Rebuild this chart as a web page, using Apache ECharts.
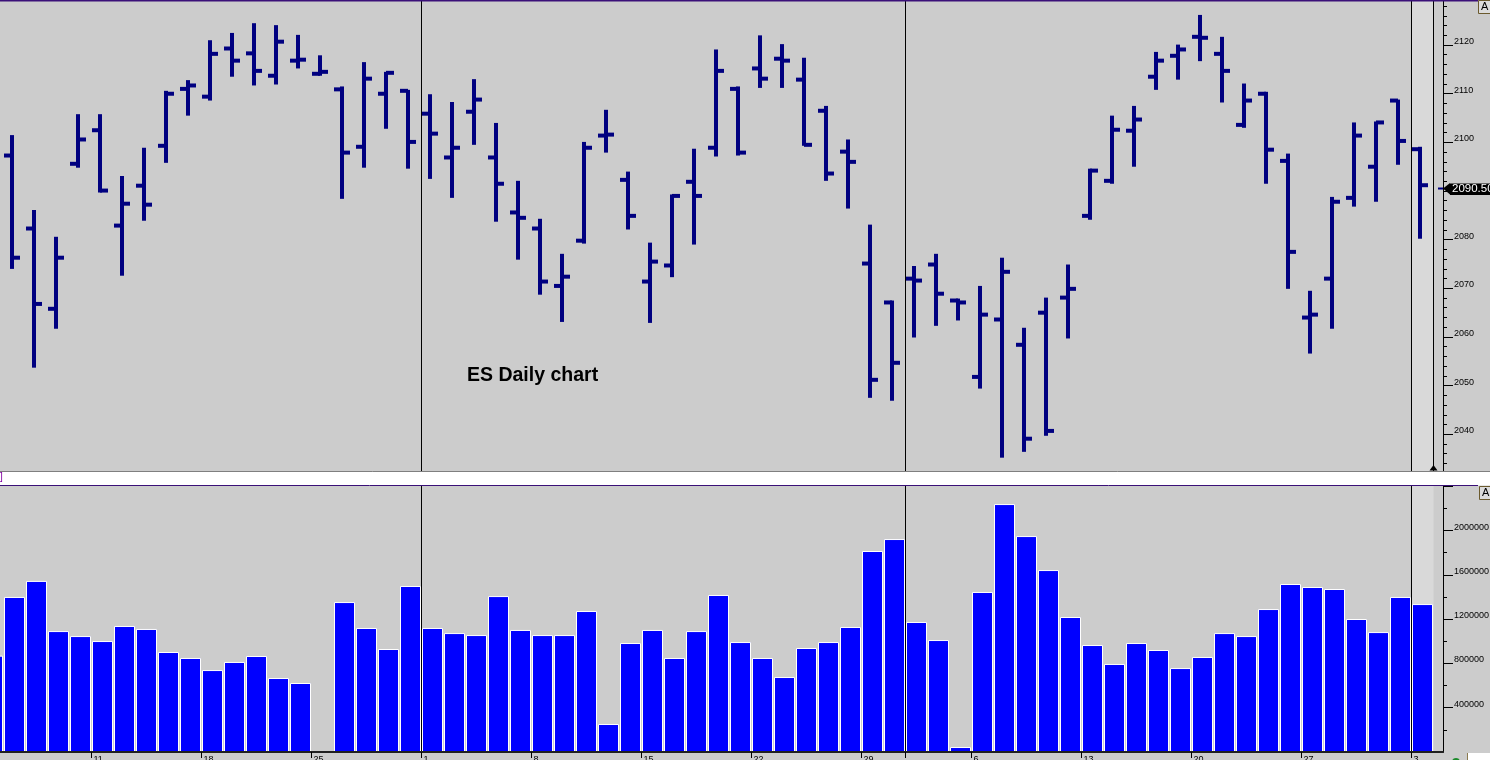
<!DOCTYPE html>
<html>
<head>
<meta charset="utf-8">
<script src="https://cdn.jsdelivr.net/npm/echarts@6/dist/echarts.min.js"></script>
<style>
html,body{margin:0;padding:0;background:#cccccc;overflow:hidden}
#c{width:1490px;height:760px}
</style>
</head>
<body>
<div id="c"></div>
<script>
// ---- DATA (ES daily, May 4 – Aug 3 2015) ----
const dates = [
 '2015-05-04','2015-05-05','2015-05-06','2015-05-07','2015-05-08',
 '2015-05-11','2015-05-12','2015-05-13','2015-05-14','2015-05-15',
 '2015-05-18','2015-05-19','2015-05-20','2015-05-21','2015-05-22',
 '2015-05-25','2015-05-26','2015-05-27','2015-05-28','2015-05-29',
 '2015-06-01','2015-06-02','2015-06-03','2015-06-04','2015-06-05',
 '2015-06-08','2015-06-09','2015-06-10','2015-06-11','2015-06-12',
 '2015-06-15','2015-06-16','2015-06-17','2015-06-18','2015-06-19',
 '2015-06-22','2015-06-23','2015-06-24','2015-06-25','2015-06-26',
 '2015-06-29','2015-06-30','2015-07-01','2015-07-02','2015-07-03',
 '2015-07-06','2015-07-07','2015-07-08','2015-07-09','2015-07-10',
 '2015-07-13','2015-07-14','2015-07-15','2015-07-16','2015-07-17',
 '2015-07-20','2015-07-21','2015-07-22','2015-07-23','2015-07-24',
 '2015-07-27','2015-07-28','2015-07-29','2015-07-30','2015-07-31',
 '2015-08-03'
];
const opens = [null,
 2096.6,2081.6,2065.1,2094.9,2101.8,2082.2,2090.4,2098.6,2110.3,2108.7,
 2118.6,2117.6,2113.0,2116.1,2113.4,2110.2,2098.4,2109.3,2109.9,2105.2,
 2096.2,2105.6,2096.2,2084.9,2081.6,2069.8,2079.1,2100.7,2091.6,2070.7,
 2074.0,2091.2,2098.2,2110.3,2114.5,2116.5,2112.2,2105.8,2097.4,2074.4,
 2066.4,2071.3,2074.2,2066.8,2051.1,2062.9,2057.7,2064.3,2067.4,2084.2,
 2091.4,2101.7,2112.8,2117.1,2121.0,2117.5,2102.9,2109.3,2095.5,2063.3,
 2071.3,2087.9,2094.3,2107.9,2097.9];
const highs = [null,
 2100.8,2085.4,2079.9,2105.1,2105.1,2092.4,2098.2,2109.9,2112.1,2120.3,
 2121.8,2123.8,2123.4,2121.4,2117.2,2110.8,2115.8,2113.8,2110.1,2109.2,
 2107.6,2112.3,2103.3,2091.4,2083.6,2076.4,2099.4,2106.0,2093.3,2078.7,
 2088.6,2098.0,2118.4,2110.8,2121.3,2119.5,2116.7,2106.8,2099.9,2082.4,
 2066.8,2073.9,2076.4,2067.2,2069.8,2075.6,2061.2,2067.4,2074.2,2093.9,
 2104.8,2106.8,2117.9,2119.4,2125.5,2121.0,2111.4,2109.7,2097.0,2068.8,
 2088.1,2103.4,2103.6,2108.1,2098.4];
const lows = [null,
 2073.3,2053.0,2061.0,2094.1,2089.0,2071.9,2083.2,2095.1,2104.8,2107.9,
 2112.8,2111.0,2111.2,2114.5,2113.0,2087.7,2094.1,2102.1,2093.9,2091.8,
 2087.9,2098.8,2083.0,2075.2,2068.0,2062.4,2078.5,2097.2,2081.4,2062.2,
 2071.6,2078.3,2096.4,2096.6,2110.5,2110.5,2098.6,2091.4,2085.7,2046.8,
 2046.2,2059.2,2061.6,2062.7,2048.7,2034.5,2035.7,2039.0,2059.0,2083.4,
 2090.8,2094.3,2110.1,2112.2,2116.0,2107.5,2102.3,2090.8,2069.2,2055.9,
 2061.0,2086.1,2087.1,2094.7,2079.5];
const closes = [null,
 2075.6,2066.1,2075.6,2099.9,2089.4,2086.7,2086.5,2109.3,2111.0,2117.5,
 2116.1,2114.0,2120.0,2116.3,2113.8,2097.2,2112.4,2113.6,2099.4,2101.1,
 2098.2,2108.1,2090.8,2083.8,2070.7,2071.7,2098.2,2100.9,2084.2,2074.8,
 2088.3,2088.3,2114.0,2097.2,2112.4,2116.1,2098.8,2092.9,2095.3,2050.5,
 2054.0,2070.9,2068.2,2066.4,2063.9,2072.7,2038.4,2040.0,2069.2,2093.5,
 2101.9,2104.0,2116.1,2118.4,2120.8,2114.0,2107.9,2097.8,2076.8,2063.9,
 2087.1,2100.7,2103.4,2099.6,2090.5];
const volumes = [870000,
 1400000,1545000,1092000,1047000,1002000,1138000,1111000,903000,849000,740000,
 813000,867000,668000,623000,null,1354000,1120000,930000,1499000,1120000,
 1074000,1056000,1408000,1102000,1056000,1056000,1273000,253000,984000,1102000,
 849000,1092000,1418000,993000,849000,677000,939000,993000,1129000,1815000,
 1923000,1174000,1011000,45000,1445000,2239000,1950000,1643000,1219000,966000,
 795000,984000,921000,758000,858000,1074000,1047000,1291000,1517000,1490000,
 1472000,1201000,1083000,1400000,1336000];
const priceTickLabels = [2040,2050,2060,2070,2080,2090,2100,2110,2120];
const volumeTickLabels = [400000,800000,1200000,1600000,2000000,2400000];
const chartTitle = 'ES Daily chart';

// ---- derived ----
const ohlcRows = [];
for (let i = 0; i < dates.length; i++) {
  if (opens[i] == null) continue;
  ohlcRows.push([i, opens[i], highs[i], lows[i], closes[i]]);
}
const volRows = [];
volumes.forEach((v, i) => { if (v != null) volRows.push([i, v]); });

const weekTicks = [], weekLabelMap = {}, monthBounds = [];
for (let i = 1; i < dates.length; i++) {
  const d = new Date(dates[i] + 'T00:00:00Z'), p = new Date(dates[i-1] + 'T00:00:00Z');
  if (d.getUTCDay() < p.getUTCDay()) { weekTicks.push(i - 0.5); weekLabelMap[String(i - 0.5)] = String(d.getUTCDate()); }
  if (d.getUTCMonth() !== p.getUTCMonth()) monthBounds.push(i - 0.5);
}
const tickPositions = Array.from(new Set(weekTicks.concat(monthBounds))).sort((a,b)=>a-b);
const lastIdx = dates.length - 1;
const lastClose = closes[lastIdx];

const priceMinor = []; for (let v = 2034; v <= 2128; v += 2) priceMinor.push(v);
const volMinor = []; for (let v = 200000; v <= 2400000; v += 200000) volMinor.push(v);

const X_MIN = 0.3409, X_MAX = X_MIN + 1443 / 22;
const P_MIN = 2032.44, P_MAX = 2129.04;
const V_MAX = 2402000;

const FONT = 'Liberation Sans';
const chart = echarts.init(document.getElementById('c'), null, {renderer: 'canvas'});

const yLabel = {color:'#000', fontFamily: FONT, fontSize: 9, margin: 11, align:'left', verticalAlign:'bottom', lineHeight: 7, formatter: v => String(v)};

const option = {
  backgroundColor: '#cccccc',
  animation: false,
  grid: [
    {left: 0, top: 1, width: 1443, height: 470, outerBoundsMode: 'none', containLabel: false},
    {left: 0, top: 486, width: 1443, height: 266, outerBoundsMode: 'none', containLabel: false}
  ],
  xAxis: [
    {type:'value', gridIndex:0, min:X_MIN, max:X_MAX, show:false},
    {type:'value', gridIndex:1, min:X_MIN, max:X_MAX, z: 10,
     axisLine:{onZero:false, lineStyle:{color:'#202020', width:2}},
     axisTick:{show:true, customValues: tickPositions, length:6, lineStyle:{color:'#000'}},
     axisLabel:{customValues: weekTicks, formatter: v => weekLabelMap[String(v)] || '',
                color:'#000', fontFamily: FONT, fontSize: 9, margin: 3, align:'left', padding:[0,0,0,2]},
     splitLine:{show:false}}
  ],
  yAxis: [
    {type:'value', gridIndex:0, min:P_MIN, max:P_MAX, position:'right',
     axisLine:{show:true, onZero:false, lineStyle:{color:'#000'}},
     axisTick:{show:true, customValues: priceTickLabels, length:10, lineStyle:{color:'#000'}},
     axisLabel:Object.assign({customValues: priceTickLabels}, yLabel),
     splitLine:{show:false}},
    {type:'value', gridIndex:0, min:P_MIN, max:P_MAX, position:'right',
     axisLine:{show:true, onZero:false, lineStyle:{color:'#000'}},
     axisTick:{show:true, customValues: priceMinor, length:4, lineStyle:{color:'#000'}},
     axisLabel:{show:false}, splitLine:{show:false}},
    {type:'value', gridIndex:1, min:0, max:V_MAX, position:'right',
     axisLine:{show:true, onZero:false, lineStyle:{color:'#000'}},
     axisTick:{show:true, customValues: volumeTickLabels, length:10, lineStyle:{color:'#000'}},
     axisLabel:Object.assign({customValues: volumeTickLabels}, yLabel),
     splitLine:{show:false}},
    {type:'value', gridIndex:1, min:0, max:V_MAX, position:'right',
     axisLine:{show:true, onZero:false, lineStyle:{color:'#000'}},
     axisTick:{show:true, customValues: volMinor, length:4, lineStyle:{color:'#000'}},
     axisLabel:{show:false}, splitLine:{show:false}}
  ],
  series: [
    {
      type:'custom', name:'ES', xAxisIndex:0, yAxisIndex:0, data: ohlcRows,
      encode:{x:0, y:[1,2,3,4]}, z: 3,
      renderItem: function(params, api){
        const i = api.value(0);
        const ph = api.coord([i, api.value(2)]), pl = api.coord([i, api.value(3)]);
        const po = api.coord([i, api.value(1)]), pc = api.coord([i, api.value(4)]);
        const cx = Math.round(ph[0] - 2.5), dy = -3.3;
        const st = {stroke:'#000080', lineWidth:4};
        return {type:'group', children:[
          {type:'line', shape:{x1:cx, y1:ph[1]+dy, x2:cx, y2:pl[1]+dy}, style:st},
          {type:'line', shape:{x1:cx-8, y1:po[1]+dy, x2:cx, y2:po[1]+dy}, style:st},
          {type:'line', shape:{x1:cx, y1:pc[1]+dy, x2:cx+8, y2:pc[1]+dy}, style:st}
        ]};
      },
      markArea:{silent:true, itemStyle:{color:'#d9d9d9'}, label:{show:false},
        data:[[{xAxis: lastIdx - 0.5},{xAxis: lastIdx + 0.5}]]},
      markLine:{silent:true, symbol:['none','none'], label:{show:false},
        lineStyle:{color:'#000', width:1, type:'solid'}, emphasis:{disabled:true},
        data: monthBounds.map(b => ({xAxis:b})).concat([{xAxis: lastIdx + 0.5}])}
    },
    {
      type:'bar', name:'Volume', xAxisIndex:1, yAxisIndex:2, data: volRows,
      barWidth: 21, z: 3,
      itemStyle:{color:'#0000ff', borderColor:'#ffffff', borderWidth:1},
      markArea:{silent:true, itemStyle:{color:'#d9d9d9'}, label:{show:false},
        data:[[{xAxis: lastIdx - 0.5},{xAxis: lastIdx + 0.5}]]},
      markLine:{silent:true, symbol:['none','none'], label:{show:false},
        lineStyle:{color:'#000', width:1, type:'solid'}, emphasis:{disabled:true},
        data: monthBounds.map(b => ({xAxis:b}))}
    }
  ]
};
chart.setOption(option);

const pY = chart.convertToPixel({yAxisIndex:0}, lastClose);
const edgeX = chart.convertToPixel({xAxisIndex:0}, lastIdx + 0.5);
const purple = '#3a1078';
chart.setOption({graphic: [
  {type:'rect', z:100, shape:{x:0, y:472, width:1490, height:13.5}, style:{fill:'#ffffff'}},
  {type:'line', z:101, shape:{x1:0, y1:471.5, x2:1490, y2:471.5}, style:{stroke:'#7f7f7f', lineWidth:1}},
  {type:'line', z:101, shape:{x1:0, y1:485.5, x2:1478, y2:485.5}, style:{stroke:purple, lineWidth:1}},
  {type:'line', z:101, shape:{x1:0, y1:0.5, x2:1478, y2:0.5}, style:{stroke:purple, lineWidth:2}},
  {type:'text', z:101, x:0, y:472, style:{text:']', fill:'#8000a0', fontSize:10, fontFamily:FONT}},
  {type:'rect', z:101, shape:{x:1478.5, y:0.5, width:12, height:13}, style:{fill:'#dcdcdc', stroke:'#6b5a2e', lineWidth:1}},
  {type:'text', z:102, x:1481, y:1, style:{text:'A', fill:'#000', fontSize:11, fontFamily:FONT}},
  {type:'rect', z:101, shape:{x:1479.5, y:486.5, width:12, height:13}, style:{fill:'#dcdcdc', stroke:'#6b5a2e', lineWidth:1}},
  {type:'text', z:102, x:1482, y:487.5, style:{text:'A', fill:'#000', fontSize:11, fontFamily:FONT}},
  {type:'polygon', z:102, shape:{points:[[edgeX-4, 470.5],[edgeX+4, 470.5],[edgeX, 465]]}, style:{fill:'#000'}},
  {type:'line', z:102, shape:{x1:1438, y1:pY, x2:1443, y2:pY}, style:{stroke:'#000080', lineWidth:2}},
  {type:'polygon', z:102, shape:{points:[[1443, pY],[1450, pY-5.5],[1450, pY+6]]}, style:{fill:'#000'}},
  {type:'rect', z:102, shape:{x:1450, y:Math.round(pY)-5.5, width:42, height:11.5}, style:{fill:'#000'}},
  {type:'text', z:103, x:1452, y:pY+0.5, style:{text:lastClose.toFixed(2), fill:'#fff', fontSize:11.5, fontFamily:FONT, verticalAlign:'middle'}},
  {type:'text', z:50, x:467, y:376, style:{text:chartTitle, fill:'#000', fontSize:19.5, fontWeight:'bold', fontFamily:FONT, verticalAlign:'middle'}},
  {type:'rect', z:101, shape:{x:1468, y:753, width:22, height:7}, style:{fill:'#ffffff'}},
  {type:'line', z:101, shape:{x1:1467.5, y1:753, x2:1467.5, y2:760}, style:{stroke:'#8a7a50', lineWidth:1}},
  {type:'circle', z:101, shape:{cx:1456, cy:762, r:4}, style:{fill:'#1a8a2a'}}
]});
</script>
</body>
</html>
